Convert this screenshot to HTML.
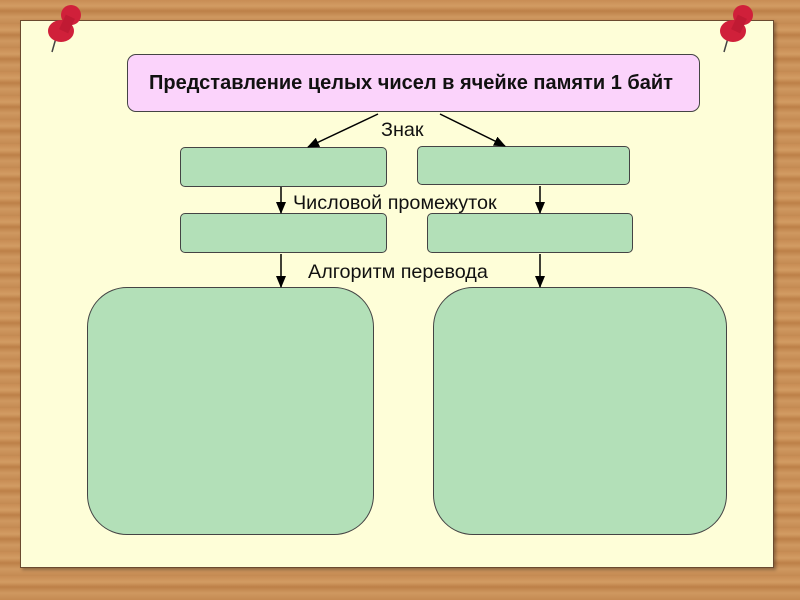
<!DOCTYPE html>
<html><head><meta charset="utf-8"><style>
body{margin:0;width:800px;height:600px;overflow:hidden;background:repeating-linear-gradient(180deg,#c88d55 0px,#d29c63 6px,#bd8048 11px,#cf9860 17px,#c48a52 24px);font-family:"Liberation Sans",sans-serif;}
.paper{position:absolute;left:20px;top:20px;width:752px;height:546px;background:#fefed8;border:1px solid #6b4a30;box-shadow:2px 2px 3px rgba(0,0,0,.3);}
.b{position:absolute;background:#b3e0b8;border:1px solid #444;border-radius:5px;box-sizing:border-box;}
.t{position:absolute;font-size:19.8px;color:#111;white-space:nowrap;}
</style></head><body>
<div class="paper"></div>
<div style="position:absolute;left:127px;top:54px;width:573px;height:58px;background:#fbd3fb;border:1px solid #444;border-radius:9px;box-sizing:border-box;font-weight:bold;font-size:20px;line-height:56px;padding-left:21px;color:#111;white-space:nowrap">Представление целых чисел в ячейке памяти 1 байт</div>
<div class="b" style="left:180px;top:147px;width:207px;height:40px"></div>
<div class="b" style="left:417px;top:146px;width:213px;height:39px"></div>
<div class="b" style="left:180px;top:213px;width:207px;height:40px"></div>
<div class="b" style="left:427px;top:213px;width:206px;height:40px"></div>
<div class="b" style="left:87px;top:287px;width:287px;height:248px;border-radius:40px"></div>
<div class="b" style="left:433px;top:287px;width:294px;height:248px;border-radius:40px"></div>
<div class="t" style="left:381px;top:119px">Знак</div>
<div class="t" style="left:293px;top:192px">Числовой промежуток</div>
<div class="t" style="left:308px;top:261px">Алгоритм перевода</div>
<svg width="800" height="600" style="position:absolute;left:0;top:0">
<defs><marker id="a" markerWidth="12" markerHeight="10" refX="11" refY="5" orient="auto" markerUnits="userSpaceOnUse"><path d="M0,0L12,5L0,10z" fill="#000"/></marker></defs>
<g stroke="#000" stroke-width="1.5" marker-end="url(#a)">
<line x1="378" y1="114" x2="308" y2="147"/>
<line x1="440" y1="114" x2="505" y2="146"/>
<line x1="281" y1="187" x2="281" y2="213"/>
<line x1="540" y1="186" x2="540" y2="213"/>
<line x1="281" y1="254" x2="281" y2="287"/>
<line x1="540" y1="254" x2="540" y2="287"/>
</g>
<g><line x1="56" y1="38" x2="52" y2="52" stroke="#444" stroke-width="1.5"/><ellipse cx="61" cy="31" rx="13" ry="11" fill="#d0203a"/><circle cx="71" cy="15" r="10" fill="#d0203a"/><rect x="62" y="16" width="10" height="16" fill="#c01a33" transform="rotate(25 67 24)"/></g>
<g><line x1="728" y1="38" x2="724" y2="52" stroke="#444" stroke-width="1.5"/><ellipse cx="733" cy="31" rx="13" ry="11" fill="#d0203a"/><circle cx="743" cy="15" r="10" fill="#d0203a"/><rect x="734" y="16" width="10" height="16" fill="#c01a33" transform="rotate(25 739 24)"/></g>
</svg>
</body></html>
